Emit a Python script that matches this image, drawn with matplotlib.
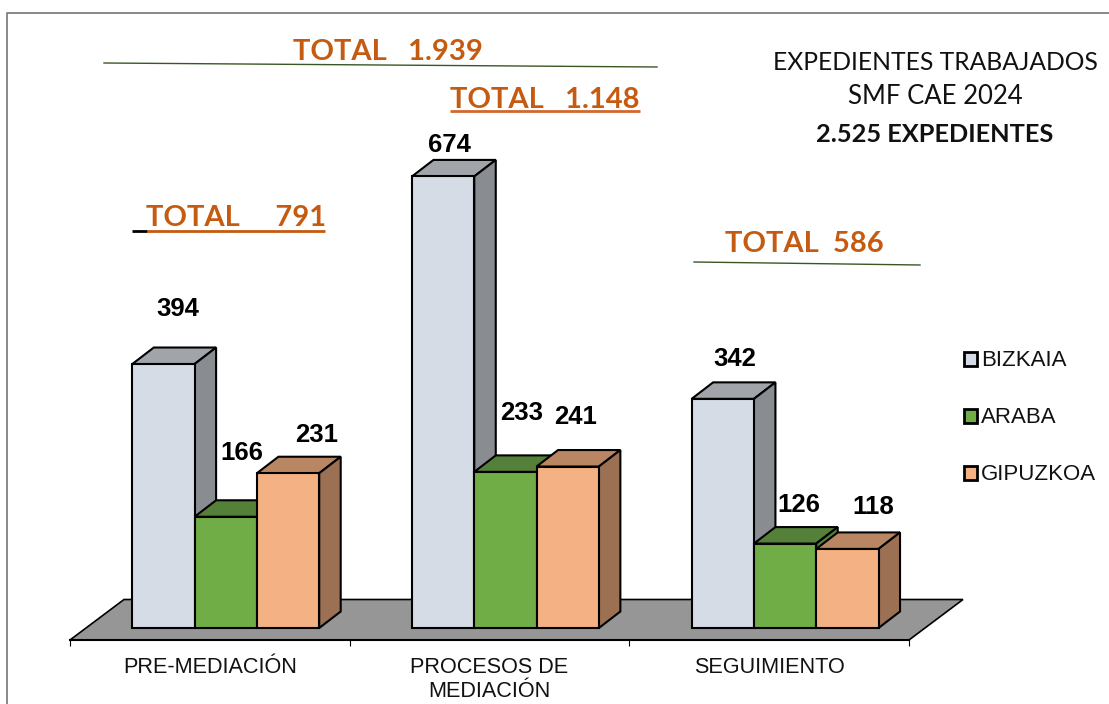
import matplotlib
matplotlib.use('Agg')
import matplotlib.pyplot as plt
from matplotlib.patches import Polygon, Patch
from matplotlib.lines import Line2D

categories = ['PRE-MEDIACIÓN', 'PROCESOS DE\nMEDIACIÓN', 'SEGUIMIENTO']
series_names = ['BIZKAIA', 'ARABA', 'GIPUZKOA']
bizkaia = [394, 674, 342]
araba = [166, 233, 126]
gipuzkoa = [231, 241, 118]
totals = ['TOTAL     791', 'TOTAL   1.148', 'TOTAL  586', 'TOTAL   1.939']
title_lines = ['EXPEDIENTES TRABAJADOS', 'SMF CAE 2024', '2.525 EXPEDIENTES']

W = 1109
H = 704
px_per_unit = 0.67
px_per_cat = 839 / 3
base_px = 628
floor_px = 640
top_px = 28

# front, top, side
colors = [('#D6DCE5', '#A1A4A9', '#898C91'),
          ('#70AD47', '#55803A', '#55803A'),
          ('#F4B183', '#B98663', '#9B7053')]

def fx(x):
    return x / W

def fy(y):
    return 1 - y / H

fig = plt.figure(figsize=(W / 100, H / 100), dpi=100)
plt.rcParams['font.family'] = ['Liberation Sans', 'DejaVu Sans']

# outer frame, only left and top are inside the picture
fig.add_artist(Line2D([fx(6.5), fx(6.5), 1], [0, fy(13), fy(13)], color='#7F7F7F', lw=1.3))

ax = fig.add_axes([fx(70), fy(floor_px), 839 / W, (floor_px - top_px) / H])
ax.patch.set_alpha(0)
ax.set_xlim(0, 3)
ax.set_ylim((base_px - floor_px) / px_per_unit, (base_px - top_px) / px_per_unit)
for s in ['top', 'left', 'right']:
    ax.spines[s].set_visible(False)
ax.spines['bottom'].set_linewidth(1.5)
ax.set_yticks([])
ax.set_xticks([0, 1, 2, 3])
ax.set_xticklabels([])
ax.tick_params(axis='x', which='major', length=4.5, width=0.8)
ax.set_xticks([0.5, 1.5, 2.5], minor=True)
ax.set_xticklabels(categories, minor=True, fontsize=15.6, color='#111111', family='Liberation Sans')
ax.tick_params(axis='x', which='minor', length=0, pad=12)

# floor of the 3d chart
y0 = (base_px - floor_px) / px_per_unit
y1 = (base_px - 599.5) / px_per_unit
sx = 54 / px_per_cat
ax.add_patch(Polygon([(0, y0), (3, y0), (3 + sx, y1), (sx, y1)], closed=True, facecolor='#969696',
                     edgecolor='black', lw=1.2, clip_on=False, zorder=1))

bar_w = 62.3 / px_per_cat
start = 62.3 / px_per_cat
dx = 21.5 / px_per_cat
dy = 16.5 / px_per_unit
z = 2
for i in range(3):
    for j, vals in enumerate([bizkaia, araba, gipuzkoa]):
        v = vals[i]
        x = i + start + j * bar_w
        front, top, side = colors[j]
        ax.add_patch(Polygon([(x, v), (x + bar_w, v), (x + bar_w + dx, v + dy), (x + dx, v + dy)],
                             facecolor=top, edgecolor='black', lw=1.5, clip_on=False, zorder=z))
        ax.add_patch(Polygon([(x + bar_w, 0), (x + bar_w + dx, dy), (x + bar_w + dx, v + dy), (x + bar_w, v)],
                             facecolor=side, edgecolor='black', lw=1.5, clip_on=False, zorder=z))
        ax.bar(x, v, bar_w, align='edge', color=front, edgecolor='black', lw=1.5, zorder=z + 1)
        z += 2

# value labels
value_pos = [(178, 308.5), (449, 144.5), (735, 359.5),
             (242, 452.5), (522, 412.5), (799, 505),
             (317, 435.5), (576, 417.5), (873, 507)]
all_vals = bizkaia + araba + gipuzkoa
for v, p in zip(all_vals, value_pos):
    fig.text(fx(p[0]), fy(p[1]), str(v), ha='center', va='center', fontsize=18.5,
             fontweight='bold', color='black', family='Liberation Sans')

# orange totals
total_pos = [(236, 218), (545, 99.5), (804, 244.5), (388, 52)]
for t, p in zip(totals, total_pos):
    fig.text(fx(p[0]), fy(p[1]), t, ha='center', va='center', fontsize=21, fontweight='bold',
             color='#C55A11', family='Lato')

fig.add_artist(Line2D([fx(147), fx(325)], [fy(230.5)] * 2, color='#C55A11', lw=2, solid_capstyle='butt'))
fig.add_artist(Line2D([fx(132), fx(147)], [fy(230.5)] * 2, color='black', lw=2, solid_capstyle='butt'))
fig.add_artist(Line2D([fx(450), fx(640)], [fy(111)] * 2, color='#D2682A', lw=2, solid_capstyle='butt'))
fig.add_artist(Line2D([fx(104), fx(657)], [fy(63), fy(67)], color='#385723', lw=1))
fig.add_artist(Line2D([fx(694), fx(920)], [fy(262), fy(265)], color='#385723', lw=1))

# title block
fig.text(fx(935), fy(62), title_lines[0], ha='center', va='center', fontsize=17.7, family='Lato', color='#111111')
fig.text(fx(935.5), fy(97), title_lines[1], ha='center', va='center', fontsize=18.5, family='Lato', color='#111111')
fig.text(fx(935), fy(135), title_lines[2], ha='center', va='center', fontsize=18.3, family='Lato', fontweight='bold', color='#111111')

handles = [Patch(facecolor=colors[k][0], edgecolor='black', lw=2, label=series_names[k]) for k in range(3)]
fig.legend(handles=handles, loc='upper left', bbox_to_anchor=(fx(964), fy(350.5)), borderaxespad=0, borderpad=0,
           frameon=False, fontsize=16, handlelength=0.58, handleheight=0.58, handletextpad=0.2,
           labelspacing=1.62, labelcolor='#111111')

fig.savefig('out.png', dpi=100)
